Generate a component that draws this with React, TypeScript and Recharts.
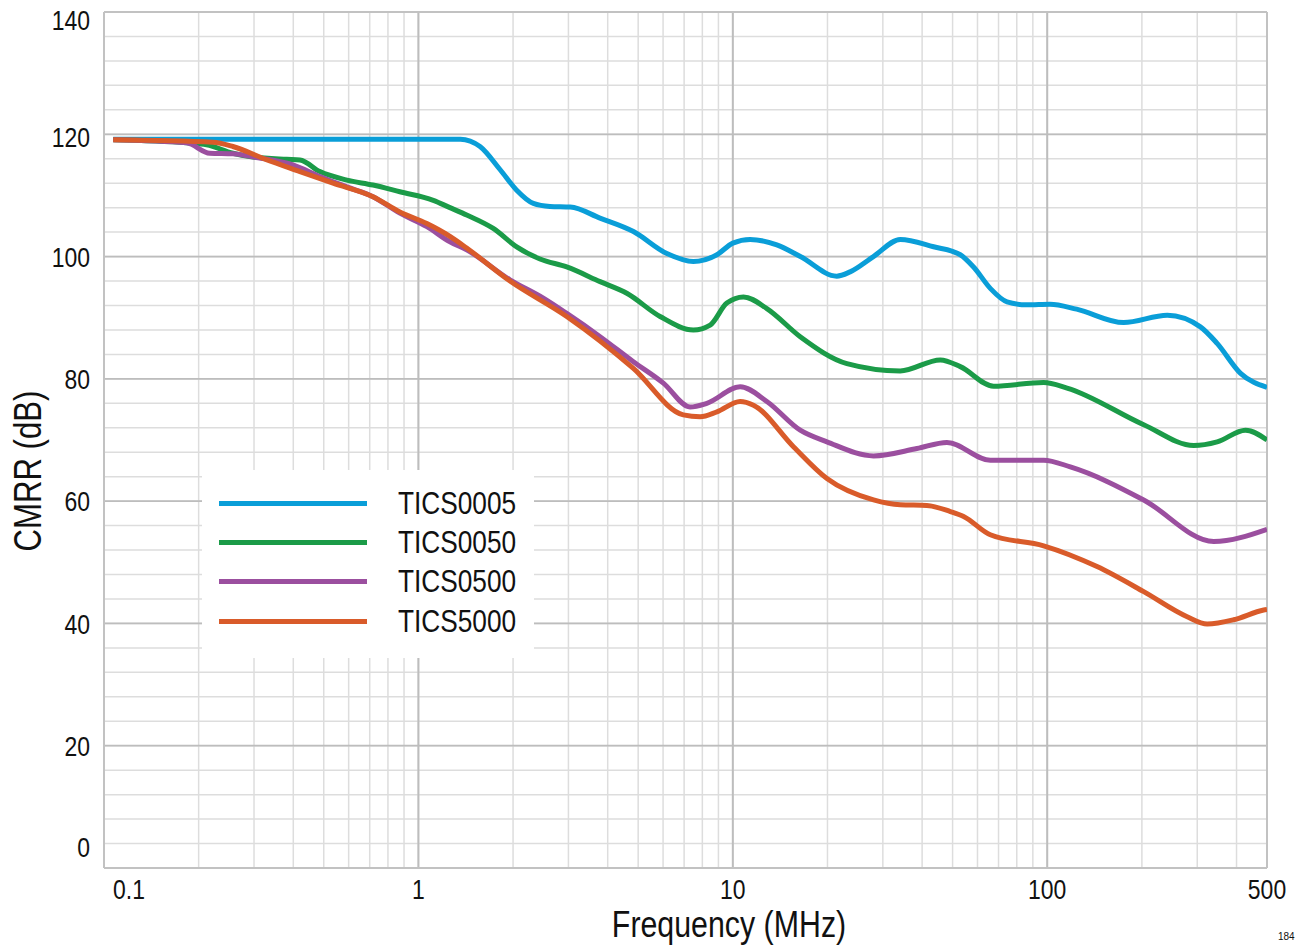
import React from 'react';
import { LineChart, Line, XAxis, YAxis, CartesianGrid, ReferenceLine, Legend } from 'recharts';

const FONT = "'Liberation Sans', Arial, sans-serif";
const NARROW = 0.82;

// ---- data (frequency in MHz, CMRR in dB) ----
const tics0005Freq = [0.107, 1.36, 1.57, 1.82, 2.05, 2.32, 2.62, 3.04, 3.78, 4.83, 6.17, 7.49, 8.9, 10.0, 11.35, 13.8, 16.4, 21.4, 23.6, 28.0, 34.1, 43.5, 52.9, 58.3, 65.9, 74.5, 86.3, 102, 124, 175, 241, 307, 347, 412, 500];
const tics0005Cmrr = [119.2, 119.2, 118.0, 114.2, 110.9, 108.7, 108.2, 108.1, 106.3, 104.1, 100.5, 99.2, 100.3, 102.2, 102.8, 101.9, 100.0, 96.8, 97.5, 100.0, 102.8, 101.6, 100.3, 98.3, 94.8, 92.6, 92.1, 92.2, 91.4, 89.2, 90.4, 88.5, 85.8, 80.9, 78.6];

const tics0050Freq = [0.107, 0.183, 0.212, 0.257, 0.297, 0.381, 0.42, 0.486, 0.592, 0.717, 0.873, 1.115, 1.26, 1.424, 1.73, 2.054, 2.436, 2.963, 3.783, 4.6, 5.87, 7.49, 8.47, 9.57, 10.81, 12.83, 16.38, 23.06, 34.08, 45.7, 52.9, 67.5, 97.4, 115.6, 202.7, 292.4, 347.1, 427, 500];
const tics0050Cmrr = [119.1, 118.6, 118.3, 116.9, 116.3, 115.9, 115.8, 113.9, 112.5, 111.7, 110.6, 109.2, 108.0, 106.8, 104.6, 101.6, 99.6, 98.3, 95.9, 94.0, 90.2, 88.0, 88.8, 92.4, 93.4, 91.5, 86.9, 82.5, 81.3, 83.1, 82.0, 78.8, 79.4, 78.5, 72.5, 69.1, 69.7, 71.6, 70.0];

const tics0500Freq = [0.107, 0.183, 0.217, 0.257, 0.297, 0.399, 0.486, 0.592, 0.717, 0.873, 1.064, 1.26, 1.424, 1.955, 2.496, 2.963, 3.783, 4.827, 6.013, 7.31, 8.265, 10.55, 12.83, 16.38, 19.92, 28.03, 38.5, 47.98, 65.9, 97.4, 118.4, 202.7, 338.5, 500];
const tics0500Cmrr = [119.1, 118.6, 116.9, 116.8, 116.3, 115.0, 113.1, 111.4, 109.8, 107.1, 104.9, 102.4, 101.1, 96.2, 93.2, 90.7, 86.9, 82.8, 79.3, 75.4, 76.0, 78.7, 76.3, 71.6, 69.7, 67.4, 68.6, 69.6, 66.7, 66.7, 65.6, 60.2, 53.4, 55.4];

const tics5000Freq = [0.107, 0.222, 0.257, 0.33, 0.42, 0.535, 0.717, 0.873, 1.064, 1.26, 1.424, 1.955, 2.963, 4.827, 6.96, 7.87, 8.9, 10.55, 11.63, 15.59, 19.92, 28.03, 34.08, 41.4, 49.2, 54.2, 65.9, 97.4, 144, 202.7, 278.6, 322.6, 391.9, 488, 500];
const tics5000Cmrr = [119.1, 118.7, 118.0, 115.8, 113.9, 112.0, 109.8, 107.3, 105.4, 103.3, 101.4, 96.0, 90.2, 81.7, 74.1, 73.8, 74.6, 76.3, 75.7, 68.9, 63.7, 60.2, 59.4, 59.3, 58.3, 57.5, 54.5, 52.7, 49.3, 45.2, 41.1, 39.9, 40.6, 42.2, 42.3];

const seriesNames = ['TICS0005', 'TICS0050', 'TICS0500', 'TICS5000'];
const seriesColors = ['#0a9ed8', '#1b9b48', '#9b4f9f', '#d95b2a'];

// ---- axes ----
const xTicks = [0.1, 0.2, 0.3, 0.4, 0.5, 0.6, 0.7, 0.8, 0.9, 1, 2, 3, 4, 5, 6, 7, 8, 9, 10, 20, 30, 40, 50, 60, 70, 80, 90, 100, 200, 300, 400, 500];
const xTickLabels = [0.1, 1, 10, 100, 500];
const xDecades = [1, 10, 100];
const yTicks = [0, 4, 8, 12, 16, 20, 24, 28, 32, 36, 40, 44, 48, 52, 56, 60, 64, 68, 72, 76, 80, 84, 88, 92, 96, 100, 104, 108, 112, 116, 120, 124, 128, 132, 136, 140];
const yTickLabels = [0, 20, 40, 60, 80, 100, 120, 140];
const yMajorGrid = [20, 40, 60, 80, 100, 120];

const toPoints = (f: number[], c: number[]) => f.map((x, i) => ({ x, y: c[i] }));
const series = [
  toPoints(tics0005Freq, tics0005Cmrr),
  toPoints(tics0050Freq, tics0050Cmrr),
  toPoints(tics0500Freq, tics0500Cmrr),
  toPoints(tics5000Freq, tics5000Cmrr),
];

const YTick = (props: any) => {
  const { x, y, payload } = props;
  const v = payload.value;
  if (!yTickLabels.includes(v)) return <g />;
  let dy = 0;
  if (v === 140) dy = 8;
  if (v === 120) dy = 3;
  if (v === 0) dy = -21;
  return (
    <text
      transform={`translate(${x},${y + dy}) scale(${NARROW},1)`}
      x={0}
      y={0}
      dy="0.36em"
      textAnchor="end"
      fontSize={28}
      fontFamily={FONT}
      fill="#111"
    >
      {v}
    </text>
  );
};

const XTick = (props: any) => {
  const { x, y, payload } = props;
  const v = payload.value;
  if (!xTickLabels.some((t) => Math.abs(t - v) < 1e-9)) return <g />;
  const dx = v === 0.1 ? 25 : 0;
  return (
    <text
      transform={`translate(${x + dx},${y}) scale(${NARROW},1)`}
      x={0}
      y={0}
      dy="0.71em"
      textAnchor="middle"
      fontSize={28}
      fontFamily={FONT}
      fill="#111"
    >
      {v}
    </text>
  );
};

const LegendBox = (props: any) => {
  const payload = props.payload || [];
  return (
    <div style={{ width: 332, height: 188, background: '#fff', paddingTop: 13.5, boxSizing: 'border-box' }}>
      {payload.map((p: any) => (
        <div key={p.value} style={{ display: 'flex', alignItems: 'center', height: 39.3 }}>
          <div style={{ marginLeft: 17, width: 148, height: 5, background: p.color, flex: 'none' }} />
          <div
            style={{
              marginLeft: 31,
              fontSize: 32,
              fontFamily: FONT,
              color: '#111',
              lineHeight: '39px',
              whiteSpace: 'nowrap',
              transform: `scaleX(${NARROW})`,
              transformOrigin: 'left center',
            }}
          >
            {p.value}
          </div>
        </div>
      ))}
    </div>
  );
};

export default function App() {
  return (
    <div style={{ position: 'absolute', left: 0, top: 0, width: 1296, height: 951, background: '#fff' }}>
      <LineChart width={1296} height={951} margin={{ top: 12, right: 29, bottom: 0, left: 0 }}>
        <CartesianGrid stroke="#dddddd" strokeWidth={1.5} />
        <XAxis
          dataKey="x"
          type="number"
          scale="log"
          domain={[0.1, 500]}
          allowDataOverflow
          ticks={xTicks}
          interval={0}
          tick={<XTick />}
          tickLine={false}
          axisLine={false}
          tickSize={0}
          tickMargin={11}
          height={83}
          label={{
            content: () => (
              <text
                transform={`translate(729,937) scale(${NARROW},1)`}
                x={0}
                y={0}
                textAnchor="middle"
                fontSize={37}
                fontFamily={FONT}
                fill="#111"
              >
                Frequency (MHz)
              </text>
            ),
          }}
        />
        <YAxis
          type="number"
          domain={[0, 140]}
          ticks={yTicks}
          interval={0}
          tick={<YTick />}
          tickLine={false}
          axisLine={false}
          tickSize={0}
          tickMargin={14}
          width={104}
          label={{
            content: () => (
              <text
                transform={`translate(41,471) rotate(-90) scale(${NARROW},1)`}
                x={0}
                y={0}
                textAnchor="middle"
                fontSize={38}
                fontFamily={FONT}
                fill="#111"
              >
                CMRR (dB)
              </text>
            ),
          }}
        />
        {xDecades.map((d) => (
          <ReferenceLine key={'xd' + d} x={d} stroke="#bdbdbd" strokeWidth={2} />
        ))}
        {yMajorGrid.map((d) => (
          <ReferenceLine key={'yd' + d} y={d} stroke="#bdbdbd" strokeWidth={1.8} />
        ))}
        <ReferenceLine x={0.1} stroke="#c2c2c2" strokeWidth={2} />
        <ReferenceLine x={500} stroke="#c2c2c2" strokeWidth={2} />
        <ReferenceLine y={0} stroke="#c2c2c2" strokeWidth={2} />
        <ReferenceLine y={140} stroke="#c2c2c2" strokeWidth={2} />
        <Legend
          layout="vertical"
          align="center"
          verticalAlign="middle"
          content={<LegendBox />}
          wrapperStyle={{ left: 202, top: 470, width: 332, height: 188 }}
        />
        {series.map((d, i) => (
          <Line
            key={seriesNames[i]}
            data={d}
            dataKey="y"
            name={seriesNames[i]}
            type="monotone"
            stroke={seriesColors[i]}
            strokeWidth={5}
            dot={false}
            activeDot={false}
            isAnimationActive={false}
            legendType="line"
          />
        ))}
      </LineChart>
      <div style={{ position: 'absolute', left: 1278, top: 931, fontSize: 10, fontFamily: FONT, color: '#111' }}>
        184
      </div>
    </div>
  );
}
